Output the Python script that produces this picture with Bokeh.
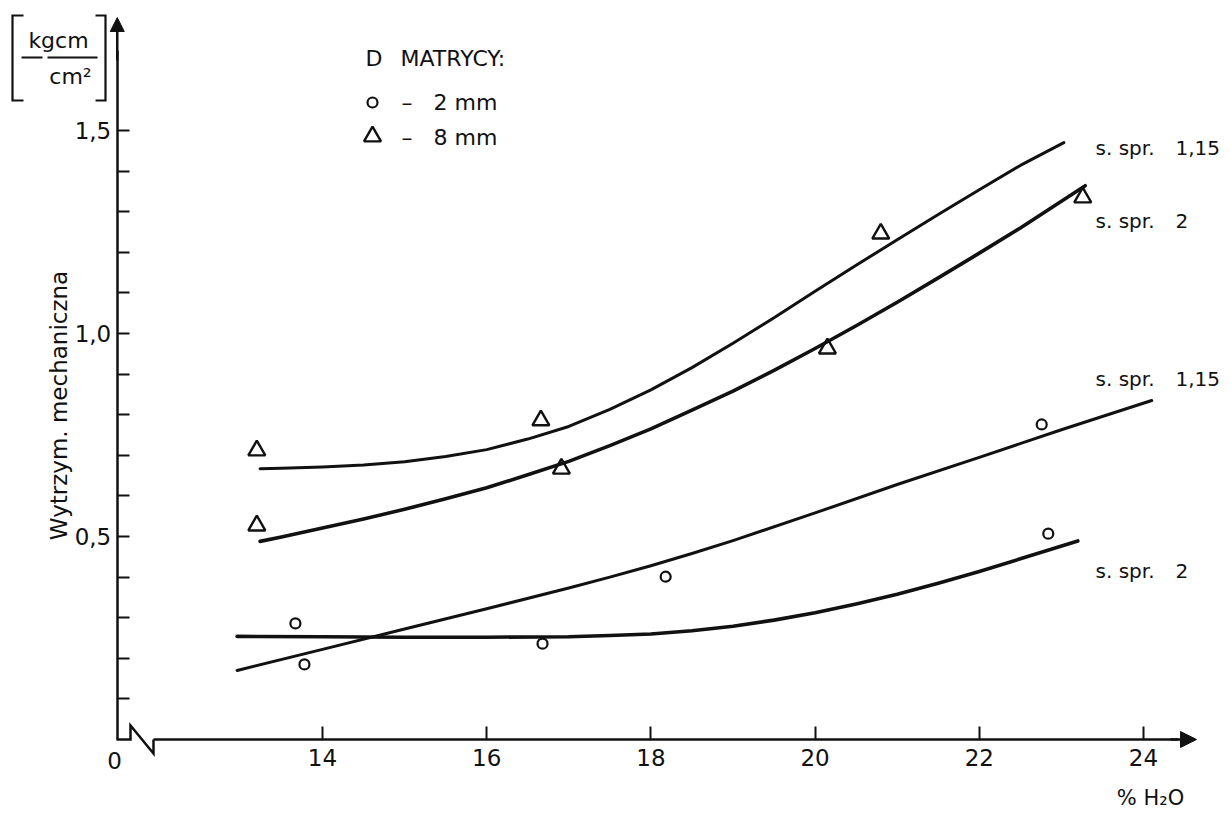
import math
from bokeh.plotting import figure
from bokeh.models import Range1d, LinearAxis, FixedTicker, Label, Arrow, NormalHead
from bokeh.embed import file_html
from bokeh.resources import INLINE

# ---------------- data ----------------
x_ticks = [14, 16, 18, 20, 22, 24]
y_major = [0.5, 1.0, 1.5]
y_major_labels = ["0,5", "1,0", "1,5"]
y_minor = [0.1, 0.2, 0.3, 0.4, 0.6, 0.7, 0.8, 0.9, 1.1, 1.2, 1.3, 1.4]

# D matrycy 8 mm (triangles)
tri_x = [13.2, 13.2, 16.66, 16.91, 20.15, 20.8, 23.26]
tri_y = [0.712, 0.527, 0.786, 0.667, 0.963, 1.246, 1.335]

# D matrycy 2 mm (circles)
circ_x = [13.67, 13.78, 16.68, 18.18, 22.76, 22.84]
circ_y = [0.286, 0.185, 0.236, 0.401, 0.776, 0.507]

# curves read along their length
curve_a_x = [13.24, 13.5, 14, 14.5, 15, 15.5, 16, 16.5, 17, 17.5, 18, 18.5,
             19, 19.5, 20, 20.5, 21, 21.5, 22, 22.5, 23.03]            # 8 mm, s. spr. 1,15
curve_a_y = [0.667, 0.668, 0.671, 0.676, 0.684, 0.697, 0.714, 0.740, 0.771, 0.813,
             0.861, 0.916, 0.976, 1.039, 1.104, 1.168, 1.231, 1.293, 1.354, 1.414, 1.470]
curve_b_x = [13.24, 13.5, 14, 14.5, 15, 15.5, 16, 16.5, 17, 17.5, 18, 18.5,
             19, 19.5, 20, 20.5, 21, 21.5, 22, 22.5, 23.29]            # 8 mm, s. spr. 2
curve_b_y = [0.488, 0.499, 0.521, 0.543, 0.567, 0.593, 0.620, 0.652, 0.685, 0.724,
             0.765, 0.811, 0.858, 0.909, 0.963, 1.019, 1.077, 1.137, 1.198, 1.260, 1.364]
curve_c_x = [12.96, 14, 15, 16, 17, 17.5, 18, 18.5, 19, 20, 21, 22, 23, 24.1]  # 2 mm, s. spr. 1,15
curve_c_y = [0.170, 0.222, 0.272, 0.322, 0.373, 0.400, 0.428, 0.458, 0.490, 0.558,
             0.628, 0.695, 0.763, 0.835]
curve_d_x = [12.96, 14, 15, 16, 17, 17.5, 18, 18.5, 19, 19.5, 20, 20.5, 21, 21.5,
             22, 22.5, 23.2]                                              # 2 mm, s. spr. 2
curve_d_y = [0.254, 0.253, 0.252, 0.252, 0.253, 0.256, 0.260, 0.268, 0.279, 0.294,
             0.312, 0.334, 0.358, 0.385, 0.414, 0.445, 0.489]

# ---------------- pixel helpers for decoration placement ----------------
def X(px):
    return 14 + (px - 322) / 82.1


def Y(py):
    return (739 - py) / 406.0


FONT = "DejaVu Sans"
INK = "#111111"
W, H = 1223, 811

p = figure(width=W, height=H,
           x_range=Range1d(X(0), X(W)), y_range=Range1d(Y(H), Y(0)),
           output_backend="svg", toolbar_location=None,
           x_axis_location=None, y_axis_location=None,
           min_border=0, min_border_left=0, min_border_right=0,
           min_border_top=0, min_border_bottom=0,
           outline_line_color=None,
           background_fill_color="white", border_fill_color="white")
p.grid.grid_line_color = None

# ---------------- axes ----------------
xaxis = LinearAxis(fixed_location=0, bounds=(X(153), X(1178)),
                   ticker=FixedTicker(ticks=x_ticks),
                   axis_line_width=2.5, axis_line_color=INK,
                   major_tick_in=13, major_tick_out=0,
                   major_tick_line_width=2, major_tick_line_color=INK,
                   minor_tick_line_color=None,
                   major_label_text_font=FONT, major_label_text_font_size="23px",
                   major_label_text_color=INK, major_label_standoff=9)
p.add_layout(xaxis, "below")

yaxis = LinearAxis(fixed_location=11.5, bounds=(0, Y(50)),
                   ticker=FixedTicker(ticks=y_major, minor_ticks=y_minor),
                   axis_line_width=2.5, axis_line_color=INK,
                   major_tick_in=12, major_tick_out=0,
                   minor_tick_in=12, minor_tick_out=0,
                   major_tick_line_width=2, minor_tick_line_width=2,
                   major_tick_line_color=INK, minor_tick_line_color=INK,
                   major_label_overrides=dict(zip(y_major, y_major_labels)),
                   major_label_text_font=FONT, major_label_text_font_size="23px",
                   major_label_text_color=INK, major_label_standoff=6)
p.add_layout(yaxis, "left")

# axis arrows
p.add_layout(Arrow(end=NormalHead(size=16, fill_color=INK, line_color=INK, line_width=1),
                   x_start=X(1170), y_start=0, x_end=X(1196), y_end=0,
                   line_width=2.5, line_color=INK))
p.add_layout(Arrow(end=NormalHead(size=14, fill_color=INK, line_color=INK, line_width=1),
                   x_start=11.5, y_start=Y(60), x_end=11.5, y_end=Y(17),
                   line_width=2.5, line_color=INK))

# axis break (zigzag)
p.line([X(116), X(130), X(130), X(153), X(153)], [0, 0, Y(725), Y(753), 0],
       line_width=2.5, line_color=INK, line_join="miter")

# ---------------- curves ----------------
p.line(curve_a_x, curve_a_y, line_width=3, line_color=INK, line_cap="round", line_join="round")
p.line(curve_b_x, curve_b_y, line_width=3.6, line_color=INK, line_cap="round", line_join="round")
p.line(curve_c_x, curve_c_y, line_width=3, line_color=INK, line_cap="round", line_join="round")
p.line(curve_d_x, curve_d_y, line_width=3.6, line_color=INK, line_cap="round", line_join="round")

# ---------------- points ----------------
p.scatter(circ_x, circ_y, marker="circle", size=10, fill_color=None,
          line_color=INK, line_width=2.2)
p.scatter(tri_x, tri_y, marker="triangle", size=17, fill_color=None,
          line_color=INK, line_width=2.4)


def lab(px, py, text, size="22px", align="left", angle=0.0):
    p.add_layout(Label(x=X(px), y=Y(py), text=text, text_font=FONT,
                       text_font_size=size, text_color=INK, text_align=align,
                       text_baseline="middle", angle=angle))


# ---------------- legend ----------------
lab(365, 58, "D")
lab(400, 58, "MATRYCY:")
p.scatter([X(372)], [Y(102)], marker="circle", size=10, fill_color=None,
          line_color=INK, line_width=2.2)
lab(401, 102, "\u2013")
lab(433, 102, "2 mm")
p.scatter([X(372)], [Y(136)], marker="triangle", size=17, fill_color=None,
          line_color=INK, line_width=2.4)
lab(401, 137, "\u2013")
lab(433, 137, "8 mm")

# ---------------- curve labels ----------------
for py, num in [(147, "1,15"), (220, "2"), (378, "1,15"), (570, "2")]:
    lab(1095, py, "s. spr.", size="20px")
    lab(1175, py, num, size="20px")

# ---------------- axis titles ----------------
lab(114, 760, "0", size="23px", align="center")
lab(1150, 797, "% H\u2082O", size="21px", align="center")
lab(58, 405, "Wytrzym. mechaniczna", size="23px", align="center", angle=math.pi / 2)

# unit  [kgcm / cm2]
p.multi_line([[X(23), X(12), X(12), X(23)], [X(95), X(105), X(105), X(95)],
              [X(21), X(42)], [X(47), X(97)]],
             [[Y(15), Y(15), Y(100), Y(100)], [Y(15), Y(15), Y(100), Y(100)],
              [Y(57), Y(57)], [Y(57), Y(57)]],
             line_width=2.2, line_color=INK, line_join="miter")
lab(58, 40, "kgcm", align="center")
lab(70, 76, "cm\u00b2", align="center")

open("out.html", "w").write(file_html(p, INLINE))
